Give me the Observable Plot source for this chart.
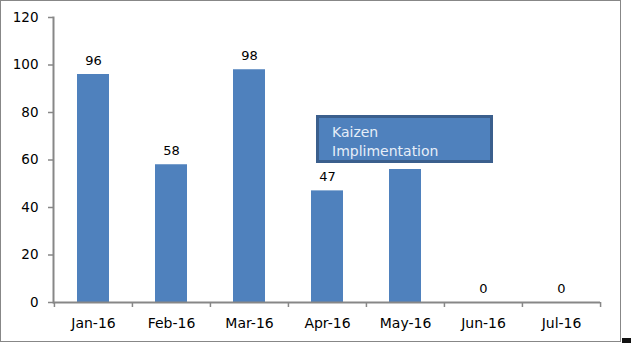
<!DOCTYPE html>
<html><head><meta charset="utf-8">
<script src="https://cdn.jsdelivr.net/npm/d3@7"></script>
<script src="https://cdn.jsdelivr.net/npm/@observablehq/plot@0.6"></script>
<style>
html,body{margin:0;padding:0;background:#fff;}
#wrap{position:relative;width:631px;height:343px;overflow:hidden;}
#frame{position:absolute;left:0;top:0;width:619px;height:340px;border:1px solid #878787;box-sizing:content-box;pointer-events:none;}
#note{position:absolute;left:316px;top:115px;width:171px;height:42px;border:3px solid #3B5F8D;background:#4F81BD;color:#E6EEF8;font:14px "DejaVu Sans",sans-serif;line-height:19px;padding:0;}
#note div{padding-left:13px;}
#corner{position:absolute;right:0;bottom:0;width:9px;height:5px;background:#111;}
#wrap svg{position:absolute;left:0;top:0;}
</style></head>
<body>
<div id="wrap"></div>
<script>
const months = ["Jan-16","Feb-16","Mar-16","Apr-16","May-16","Jun-16","Jul-16"];
const values = [96, 58, 98, 47, 56, 0, 0];
const yTicks = [0, 20, 40, 60, 80, 100, 120];
const noteLines = ["Kaizen", "Implimentation"];
const labelled = [0, 1, 2, 3, 5, 6]; // indices with data labels (May has none shown)

const data = months.map((m, i) => ({month: m, value: values[i]}));
const labelData = labelled.map(i => data[i]);

const chart = Plot.plot({
  width: 631, height: 343,
  marginLeft: 53, marginRight: 31, marginTop: 17, marginBottom: 41,
  style: {fontFamily: '"DejaVu Sans", sans-serif', fontSize: "13px", color: "#000", background: "transparent"},
  x: {type: "band", domain: months, padding: 0},
  y: {domain: [0, 120]},
  marks: [
    Plot.barY(data, {x: "month", y: "value", fill: "#4F81BD", insetLeft: 23, insetRight: 23}),
    Plot.axisY({ticks: yTicks, tickSize: 5, tickPadding: 10, stroke: "#878787", strokeWidth: 1.5, fontSize: 13.5, fill: "#000", label: null}),
    Plot.frame({anchor: "left", stroke: "#878787", strokeWidth: 2}),
    Plot.axisX({tickSize: 5, dx: -547/14, tickFormat: () => "", stroke: "#878787", strokeWidth: 1.5, label: null}),
    Plot.axisX({ticks: [months[months.length - 1]], tickSize: 5, dx: 547/14, tickFormat: () => "", stroke: "#878787", strokeWidth: 1.5, label: null}),
    Plot.axisX({tickSize: 0, tickPadding: 16, fontSize: 14, fill: "#000", label: null}),
    Plot.ruleY([0], {stroke: "#878787", strokeWidth: 2}),
    Plot.text(labelData, {x: "month", y: "value", text: d => String(d.value), lineAnchor: "bottom", dy: -10, fontSize: 13, fill: "#000"})
  ]
});

const wrap = document.getElementById("wrap");
wrap.appendChild(chart);
const frame = document.createElement("div"); frame.id = "frame"; wrap.appendChild(frame);
const note = document.createElement("div"); note.id = "note";
noteLines.forEach(t => { const d = document.createElement("div"); d.textContent = t; note.appendChild(d); });
note.firstChild.style.marginTop = "5px";
wrap.appendChild(note);
const corner = document.createElement("div"); corner.id = "corner"; wrap.appendChild(corner);
</script>
</body></html>
